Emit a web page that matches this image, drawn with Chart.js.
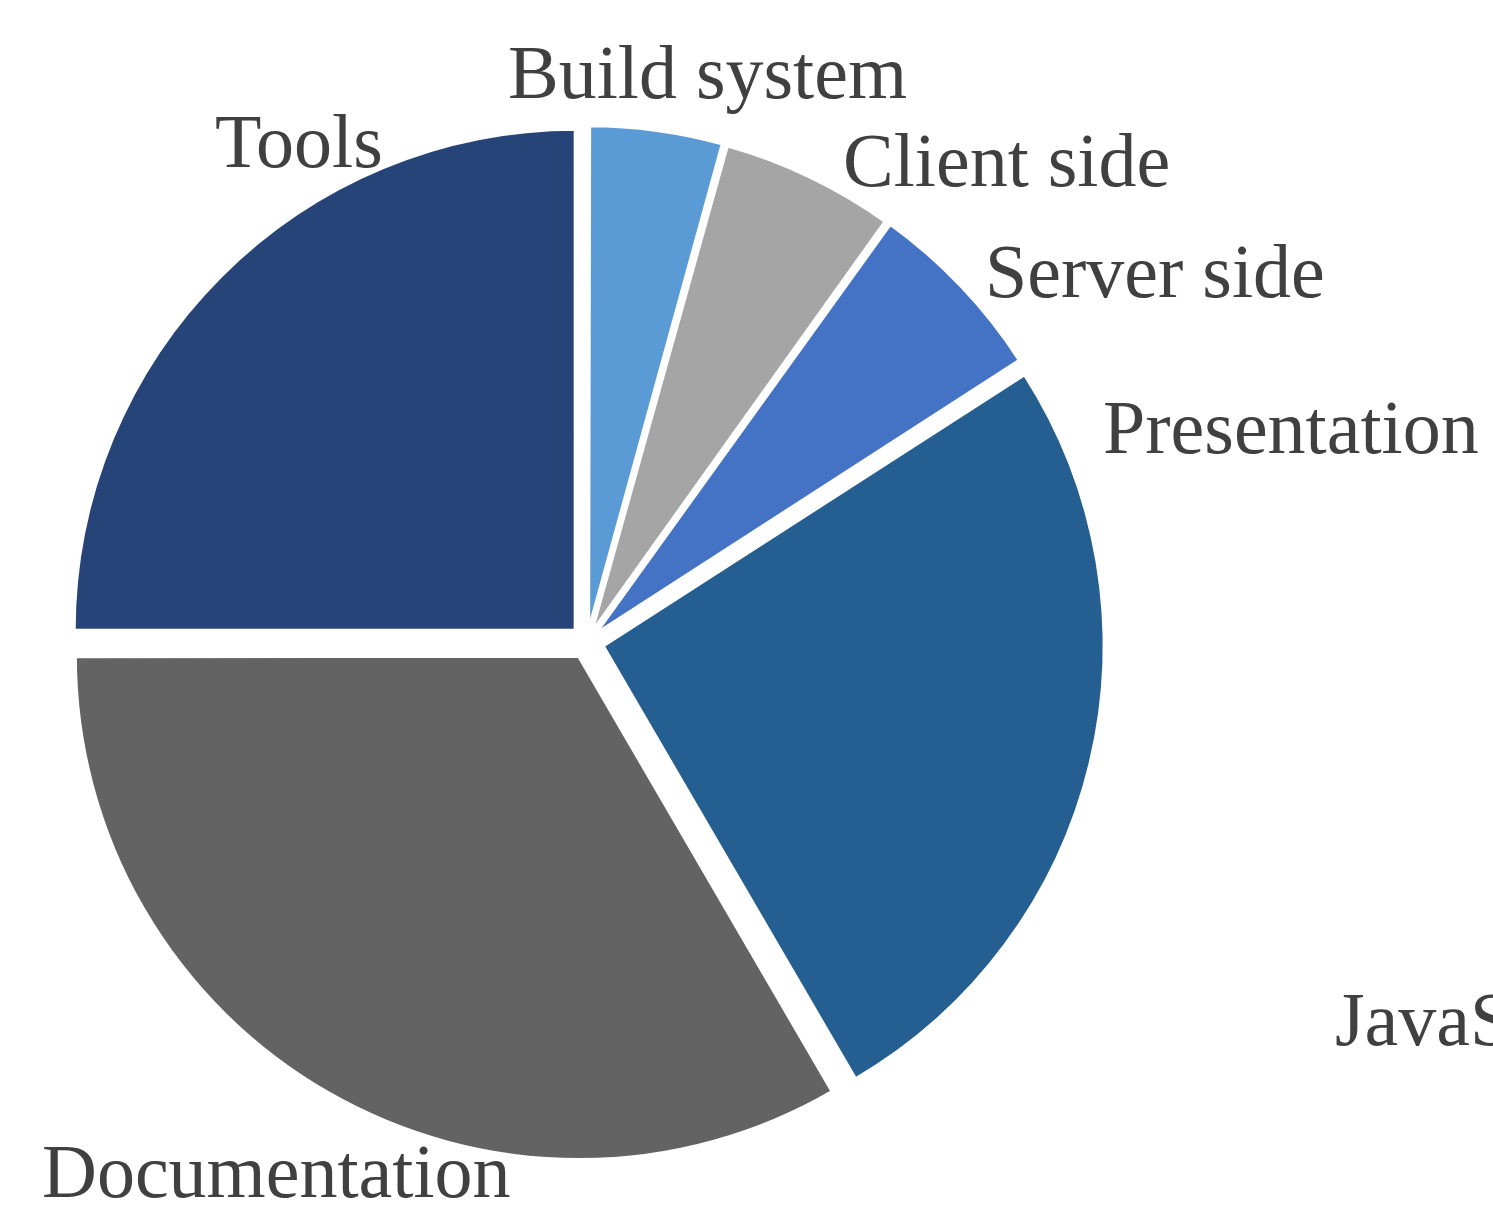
<!DOCTYPE html>
<html>
<head>
<meta charset="utf-8">
<script src="https://cdn.jsdelivr.net/npm/chart.js@4/dist/chart.umd.min.js"></script>
<style>
  html, body { margin: 0; padding: 0; background: #ffffff; }
  #wrap { width: 1493px; height: 1213px; position: relative; }
</style>
</head>
<body>
<div id="wrap"><canvas id="pie"></canvas></div>
<script>
// data (share of the whole, %)
const components = ['Build system', 'Client side', 'Server side', 'Presentation', 'JavaScript', 'Documentation', 'Tools']
const shares = [4.3, 5.6, 6.0, 25.7, 0, 33.4, 25.0]
const sliceColors = ['#5B9BD5', '#A5A5A5', '#4472C4', '#255E91', '#9E480E', '#636363', '#264478']

// where each name sits: left edge / baseline, relative to the pie centre
const labelSpots = [
  [-79, -544], [256, -456], [398, -345], [516, -189], [748, 403], [-545, 555], [-372, -475]
]
// small slices get less explode so their rim stays on the circle
const explode = [34, 34, 36, 64, 64, 64, 64]

const outsideLabels = {
  id: 'outsideLabels',
  afterDatasetsDraw(chart) {
    const ctx = chart.ctx
    const arc = chart.getDatasetMeta(0).data[0]
    ctx.save()
    ctx.font = '76px "Liberation Serif", "Times New Roman", serif'
    ctx.fillStyle = '#404040'
    ctx.textAlign = 'left'
    ctx.textBaseline = 'alphabetic'
    chart.data.labels.forEach((name, i) => {
      ctx.fillText(name, arc.x + labelSpots[i][0], arc.y + labelSpots[i][1])
    })
    ctx.restore()
  }
}

const pieCanvas = document.getElementById('pie')

new Chart(
  pieCanvas,
  {
    type: 'pie',
    data: {
      labels: components,
      datasets: [
        {
          data: shares,
          backgroundColor: sliceColors,
          borderColor: '#ffffff',
          borderWidth: 4,
          offset: explode
        }
      ]
    },
    options: {
      responsive: true,
      maintainAspectRatio: false,
      animation: false,
      radius: 502,
      plugins: {
        legend: { display: false },
        tooltip: { enabled: false }
      },
      layout: {
        padding: { left: 0, right: 319, top: 71, bottom: 0 }
      }
    },
    plugins: [outsideLabels]
  }
)
</script>
</body>
</html>
